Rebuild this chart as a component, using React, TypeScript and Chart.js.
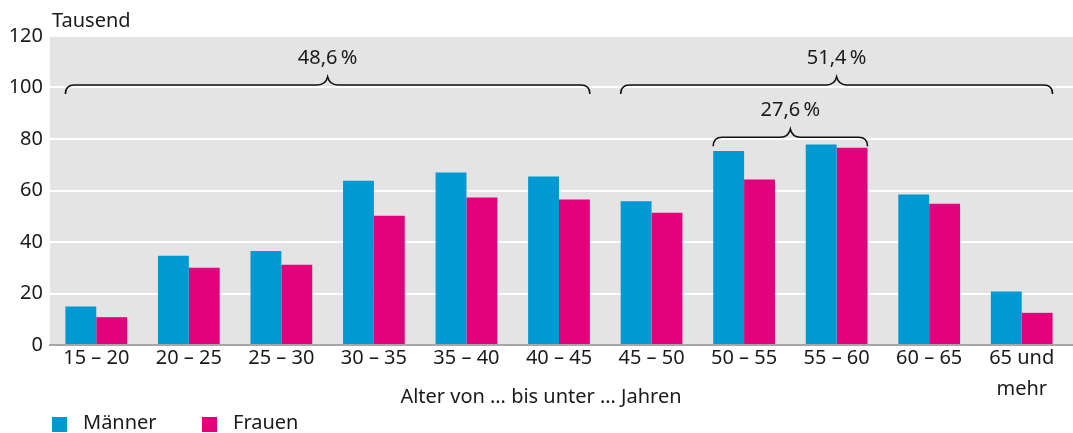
import React, { useEffect, useRef } from "react";
import { Chart, registerables } from "chart.js";

Chart.register(...registerables);

const categories: (string | string[])[] = [
  "15 – 20", "20 – 25", "25 – 30", "30 – 35", "35 – 40", "40 – 45",
  "45 – 50", "50 – 55", "55 – 60", "60 – 65", ["65 und", "mehr"],
];
const maenner = [15.0, 34.7, 36.5, 63.8, 67.0, 65.4, 55.8, 75.3, 77.9, 58.4, 20.8];
const frauen = [10.8, 30.0, 31.2, 50.2, 57.3, 56.5, 51.4, 64.3, 76.6, 54.9, 12.5];
const yTicks = [0, 20, 40, 60, 80, 100, 120];

// braces: [fromCategory, toCategory, yValue, label]
const braceFrom = [0, 6, 7];
const braceTo = [5, 10, 8];
const braceY = [101, 101, 80.7];
const braceLabels = ["48,6\u2009%", "51,4\u2009%", "27,6\u2009%"];

const FONT = "'Noto Sans', sans-serif";
const FS = 20;
const BLUE = "#0099d4";
const PINK = "#e3007b";
const TEXT = "#1a1a1a";
const BG = "#e4e4e4";
const AXIS = "#a6a6a6";

function drawBrace(ctx: CanvasRenderingContext2D, x1: number, x2: number, y: number) {
  const r = 9;
  const xm = (x1 + x2) / 2;
  const h = 8;
  ctx.beginPath();
  ctx.moveTo(x1, y + r);
  ctx.quadraticCurveTo(x1, y, x1 + r, y);
  ctx.lineTo(xm - 10, y);
  ctx.quadraticCurveTo(xm - 2, y, xm, y - h);
  ctx.quadraticCurveTo(xm + 2, y, xm + 10, y);
  ctx.lineTo(x2 - r, y);
  ctx.quadraticCurveTo(x2, y, x2, y + r);
  ctx.stroke();
}

const decor = {
  id: "decor",
  beforeDraw(chart: any) {
    const { ctx, chartArea, width } = chart;
    ctx.save();
    ctx.fillStyle = BG;
    ctx.fillRect(chartArea.left, chartArea.top, width - chartArea.left, chartArea.bottom - chartArea.top);
    ctx.restore();
  },
  beforeDatasetsDraw(chart: any) {
    const { ctx, chartArea, width } = chart;
    const yScale = chart.scales.y;
    ctx.save();
    ctx.strokeStyle = "#ffffff";
    ctx.lineWidth = 2;
    for (const v of yTicks) {
      const y = Math.round(yScale.getPixelForValue(v));
      ctx.beginPath();
      ctx.moveTo(chartArea.right - 1, y);
      ctx.lineTo(width, y);
      ctx.stroke();
    }
    ctx.strokeStyle = AXIS;
    const yb = yScale.getPixelForValue(0);
    ctx.beginPath();
    ctx.moveTo(chartArea.right - 1, yb);
    ctx.lineTo(width, yb);
    ctx.stroke();
    ctx.restore();
  },
  afterDraw(chart: any) {
    const { ctx } = chart;
    const yScale = chart.scales.y;
    const m0 = chart.getDatasetMeta(0).data;
    const m1 = chart.getDatasetMeta(1).data;
    ctx.save();
    ctx.strokeStyle = "#111";
    ctx.lineWidth = 1.6;
    ctx.fillStyle = TEXT;
    ctx.font = `${FS}px ${FONT}`;
    ctx.textAlign = "center";
    ctx.textBaseline = "middle";
    for (let i = 0; i < braceFrom.length; i++) {
      const a = m0[braceFrom[i]];
      const b = m1[braceTo[i]];
      const x1 = a.x - a.width / 2;
      const x2 = b.x + b.width / 2;
      const y = yScale.getPixelForValue(braceY[i]);
      drawBrace(ctx, x1, x2, y);
      ctx.fillText(braceLabels[i], (x1 + x2) / 2, y - 27);
    }
    // unit title
    ctx.textAlign = "left";
    ctx.fillText("Tausend", 52, 21);
    // x-axis title
    ctx.textAlign = "center";
    ctx.fillText("Alter von … bis unter … Jahren", 541, 397);
    // legend
    ctx.textAlign = "left";
    ctx.fillStyle = BLUE;
    ctx.fillRect(52, 417, 15, 15);
    ctx.fillStyle = PINK;
    ctx.fillRect(202, 417, 15, 15);
    ctx.fillStyle = TEXT;
    ctx.fillText("Männer", 83, 423);
    ctx.fillText("Frauen", 233, 423);
    ctx.restore();
  },
};

export default function App() {
  const ref = useRef<HTMLCanvasElement>(null);
  useEffect(() => {
    if (!ref.current) return;
    const chart = new Chart(ref.current, {
      type: "bar",
      data: {
        labels: categories as any,
        datasets: [
          { label: "Männer", data: maenner, backgroundColor: BLUE, borderWidth: 0 },
          { label: "Frauen", data: frauen, backgroundColor: PINK, borderWidth: 0 },
        ],
      },
      options: {
        animation: false,
        responsive: false,
        devicePixelRatio: 1,
        layout: { padding: { top: 36, left: 0, right: 5, bottom: 0 } },
        datasets: { bar: { categoryPercentage: 0.667, barPercentage: 1 } },
        plugins: { legend: { display: false }, tooltip: { enabled: false } },
        scales: {
          x: {
            grid: { display: false, drawTicks: false },
            border: { display: true, color: AXIS, width: 2 },
            ticks: { color: TEXT, font: { family: FONT, size: FS, lineHeight: 1.55 }, padding: -2, maxRotation: 0, autoSkip: false },
            afterFit: (s: any) => { s.height = 88; },
          },
          y: {
            min: 0,
            max: 120,
            afterBuildTicks: (s: any) => { s.ticks = yTicks.map((v) => ({ value: v })); },
            grid: { color: "#ffffff", lineWidth: 2, drawTicks: false },
            border: { display: false },
            ticks: { color: TEXT, font: { family: FONT, size: FS }, padding: 7 },
            afterFit: (s: any) => { s.width = 50; },
          },
        },
      },
      plugins: [decor],
    });
    return () => chart.destroy();
  }, []);
  return (
    <div style={{ position: "fixed", left: 0, top: 0, width: 1073, height: 433 }}>
      <canvas ref={ref} width={1073} height={433} />
    </div>
  );
}
